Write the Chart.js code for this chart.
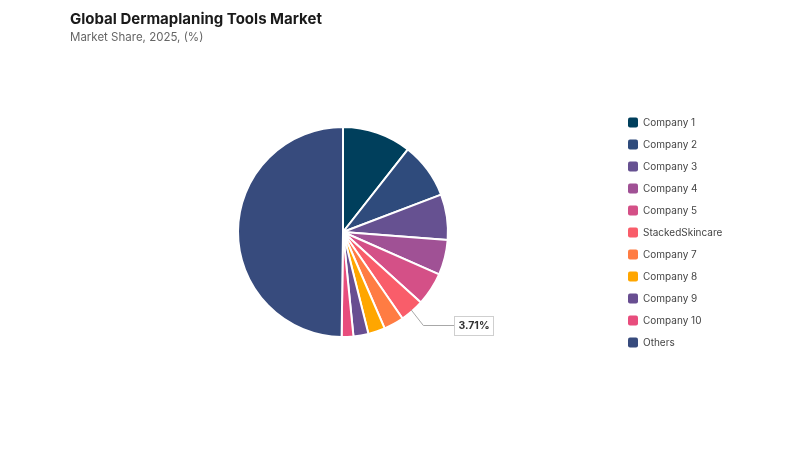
<!DOCTYPE html>
<html>
<head>
<meta charset="utf-8">
<script src="https://cdn.jsdelivr.net/npm/chart.js@4.4.1/dist/chart.umd.min.js"></script>
<style>
  html, body { margin: 0; padding: 0; background: #fff; }
  #wrap { position: relative; width: 800px; height: 450px; }
</style>
</head>
<body>
<div id="wrap"><canvas id="shareChart" width="800" height="450"></canvas></div>
<script>
    // data
    var categories = ['Company 1', 'Company 2', 'Company 3', 'Company 4', 'Company 5',
        'StackedSkincare', 'Company 7', 'Company 8', 'Company 9', 'Company 10', 'Others'];
    var shares = [10.6, 8.6, 7.0, 5.4, 5.1, 3.71, 3.1, 2.6, 2.3, 1.8, 49.79];
    var sliceColors = ['#003f5c', '#2f4b7c', '#665191', '#a05195', '#d45087',
        '#f95d6a', '#ff7c43', '#ffa600', '#684e91', '#e84d7d', '#374b7d'];
    var calloutIndex = 5;

    var FONT = 'Inter, "Noto Sans", sans-serif';

    //---------------------------- title + subtitle ----------------------------
    var titlePlugin = {
        id: 'titleText',
        afterDraw: function (chart) {
            var ctx = chart.ctx;
            ctx.save();
            ctx.textBaseline = 'middle';
            ctx.textAlign = 'left';
            ctx.fillStyle = '#1a1a1a';
            ctx.font = 'bold 15px ' + FONT;
            ctx.fillText('Global Dermaplaning Tools Market', 70, 19);
            ctx.fillStyle = '#666';
            ctx.font = '11.5px ' + FONT;
            ctx.fillText('Market Share, 2025, (%)', 70, 38);
            ctx.restore();
        }
    };

    //---------------------------- legend on the right ----------------------------
    var legendPlugin = {
        id: 'sideLegend',
        afterDraw: function (chart) {
            var ctx = chart.ctx;
            ctx.save();
            ctx.textBaseline = 'middle';
            ctx.textAlign = 'left';
            ctx.font = '10px ' + FONT;
            for (var i = 0; i < categories.length; i++) {
                var y = 122.5 + i * 22;
                ctx.fillStyle = sliceColors[i];
                ctx.beginPath();
                ctx.roundRect(628, y - 5, 10, 10, 2);
                ctx.fill();
                ctx.fillStyle = '#444';
                ctx.fillText(categories[i], 643, y);
            }
            ctx.restore();
        }
    };

    //---------------------------- value callout ----------------------------
    var calloutPlugin = {
        id: 'callout',
        afterDraw: function (chart) {
            var ctx = chart.ctx;
            var arc = chart.getDatasetMeta(0).data[calloutIndex];
            var p = arc.getProps(['x', 'y', 'startAngle', 'endAngle', 'outerRadius'], true);
            var mid = (p.startAngle + p.endAngle) / 2;
            var x0 = p.x + Math.cos(mid) * (p.outerRadius - 2);
            var y0 = p.y + Math.sin(mid) * (p.outerRadius - 2);
            var x1 = p.x + Math.cos(mid) * (p.outerRadius + 17);
            var y1 = p.y + Math.sin(mid) * (p.outerRadius + 17);
            var x2 = Math.round(x1 + 31);
            var yc = Math.round(y1) + 1;
            var text = shares[calloutIndex].toFixed(2) + '%';

            ctx.save();
            ctx.strokeStyle = '#a8a8a8';
            ctx.lineWidth = 1;
            ctx.beginPath();
            ctx.moveTo(x0, y0);
            ctx.lineTo(x1, yc + 0.5);
            ctx.lineTo(x2, yc + 0.5);
            ctx.stroke();

            ctx.font = 'bold 10.5px ' + FONT;
            var w = Math.round(ctx.measureText(text).width + 8);
            var h = 19;
            ctx.fillStyle = '#fff';
            ctx.fillRect(x2, yc - 9, w, h);
            ctx.strokeStyle = '#cfcfcf';
            ctx.strokeRect(x2 + 0.5, yc - 9 + 0.5, w, h);
            ctx.fillStyle = '#333';
            ctx.textAlign = 'center';
            ctx.textBaseline = 'middle';
            ctx.fillText(text, x2 + w / 2 + 0.5, yc + 1);
            ctx.restore();
        }
    };

    var ctxPie = document.getElementById('shareChart').getContext('2d');
    var pieChart = new Chart(ctxPie, {
        type: 'pie',
        data: {
            labels: categories,
            datasets: [{
                data: shares,
                backgroundColor: sliceColors,
                borderColor: '#ffffff',
                borderWidth: 2
            }]
        },
        options: {
            responsive: false,
            animation: false,
            layout: {
                padding: { left: 237, right: 351, top: 126, bottom: 112 }
            },
            plugins: {
                legend: { display: false },
                tooltip: { enabled: false }
            }
        },
        plugins: [titlePlugin, legendPlugin, calloutPlugin]
    });
</script>
</body>
</html>
